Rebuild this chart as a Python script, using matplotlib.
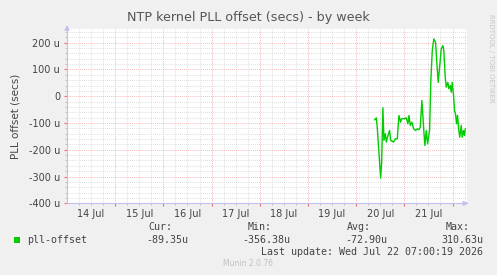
import matplotlib
matplotlib.use("Agg")
import matplotlib.pyplot as plt
import numpy as np
from matplotlib.patches import Rectangle

# x = days since 14 Jul 00:00, y = offset in microseconds
days = [6.383, 6.418, 6.439, 6.508, 6.528, 6.555, 6.576, 6.605, 6.626, 6.659,
        6.694, 6.715, 6.777, 6.812, 6.854, 6.887, 6.922, 6.943, 7.005, 7.041,
        7.074, 7.095, 7.124, 7.157, 7.192, 7.233, 7.268, 7.301, 7.330, 7.364,
        7.399, 7.426, 7.455, 7.482, 7.523, 7.550, 7.579, 7.612, 7.648, 7.675,
        7.703, 7.731, 7.766, 7.799, 7.819, 7.848, 7.869, 7.902, 7.923, 7.952,
        7.973, 7.994, 8.021, 8.041, 8.062, 8.083, 8.104, 8.130, 8.151, 8.180,
        8.201, 8.228, 8.249, 8.264]
offset_u = [-88, -81, -119, -306, -251, -43, -165, -140, -171, -147,
            -128, -165, -171, -159, -159, -72, -97, -84, -84, -81,
            -103, -72, -109, -97, -122, -128, -122, -125, -116, -16,
            -116, -184, -128, -178, -128, 59, 171, 214, 201, 121,
            52, 108, 177, 189, 171, 71, 34, 52, 28, 40,
            15, 52, 3, -53, -66, -103, -72, -128, -153, -109,
            -153, -128, -147, -122]

day_labels = ["14 Jul", "15 Jul", "16 Jul", "17 Jul", "18 Jul", "19 Jul", "20 Jul", "21 Jul"]
y_ticks = [-400, -300, -200, -100, 0, 100, 200]
y_labels = ["-400 u", "-300 u", "-200 u", "-100 u", "0", "100 u", "200 u"]

legend_name = "pll-offset"
stat_names = ["Cur:", "Min:", "Avg:", "Max:"]
stat_values = ["-89.35u", "-356.38u", "-72.90u", "310.63u"]

W, H = 497, 275
BG = "#F0F0F0"
TXT = "#444444"
GREEN = "#00CC00"

fig = plt.figure(figsize=(W / 100, H / 100), dpi=100, facecolor=BG)

def px(x, y):
    return x / W, 1 - y / H

left, right, top, bottom = 67, 467, 28.5, 203.3
ax = fig.add_axes([left / W, 1 - bottom / H, (right - left) / W, (bottom - top) / H])
ax.set_facecolor("white")
ax.set_xlim(0, 8.3)
ax.set_ylim(-400, 253)

# grid
ax.set_xticks(np.arange(1, 9), minor=False)
ax.set_xticks(np.arange(0.25, 8.3, 0.25), minor=True)
ax.set_xticklabels([])
ax.set_yticks(y_ticks)
ax.set_yticklabels(y_labels, fontsize=7, color=TXT)
ax.set_yticks(np.arange(-400, 253, 20), minor=True)
ax.grid(which="minor", color="#D4D4D4", linestyle=(0, (1, 1.5)), linewidth=0.6)
ax.grid(which="major", color="#F0A0A0", linestyle=(0, (1, 1.5)), linewidth=0.6)
ax.set_axisbelow(True)
ax.tick_params(axis="x", which="major", length=2, color="#F07070")
ax.tick_params(axis="x", which="minor", length=1.5, color="#BBBBBB")
ax.tick_params(axis="y", which="major", length=2, color="#F07070", pad=3)
ax.tick_params(axis="y", which="minor", length=1.5, color="#BBBBBB")

for i, lab in enumerate(day_labels):
    ax.text(i + 0.5, -0.035, lab, transform=ax.get_xaxis_transform(),
            ha="center", va="top", fontsize=7, color=TXT)

for s in ["top", "right"]:
    ax.spines[s].set_visible(False)
for s in ["left", "bottom"]:
    ax.spines[s].set_color("#C0C0F0")
    ax.spines[s].set_linewidth(0.8)
ax.annotate("", xy=(1.01, 0), xytext=(0.99, 0), xycoords="axes fraction",
            arrowprops=dict(arrowstyle="-|>", color="#C0C0F0", lw=0.8, mutation_scale=7),
            annotation_clip=False)
ax.annotate("", xy=(0, 1.035), xytext=(0, 0.99), xycoords="axes fraction",
            arrowprops=dict(arrowstyle="-|>", color="#C0C0F0", lw=0.8, mutation_scale=7),
            annotation_clip=False)

ax.plot(days, offset_u, color=GREEN, linewidth=1.0)

ax.set_ylabel("PLL offset (secs)", fontsize=7.5, color=TXT, labelpad=6)
fig.text(*px(248, 18), "NTP kernel PLL offset (secs) - by week",
         ha="center", va="center", fontsize=9.2, color="#555555")
fig.text(*px(491, 58), "RRDTOOL / TOBI OETIKER", rotation=270,
         ha="center", va="center", fontsize=5, color="#C8C8C8")

# legend
mono = "DejaVu Sans Mono"
fig.patches.append(Rectangle(px(14, 243), 6 / W, 6 / H, transform=fig.transFigure,
                             facecolor=GREEN, edgecolor="none"))
fig.text(*px(27, 240), legend_name, ha="left", va="center", fontsize=7.2,
         family=mono, color=TXT)
head_x = [172, 272, 371, 470]
val_x = [188, 290, 387, 483]
for hx, vx, n, v in zip(head_x, val_x, stat_names, stat_values):
    fig.text(*px(hx, 227), n, ha="right", va="center", fontsize=7.2, family=mono, color=TXT)
    fig.text(*px(vx, 240), v, ha="right", va="center", fontsize=7.2, family=mono, color=TXT)
fig.text(*px(483, 252), "Last update: Wed Jul 22 07:00:19 2026", ha="right", va="center",
         fontsize=7.2, family=mono, color=TXT)
fig.text(*px(248, 263), "Munin 2.0.76", ha="center", va="center", fontsize=5.5,
         color="#C0C0C0")

fig.savefig("out.png", dpi=100, facecolor=BG)
